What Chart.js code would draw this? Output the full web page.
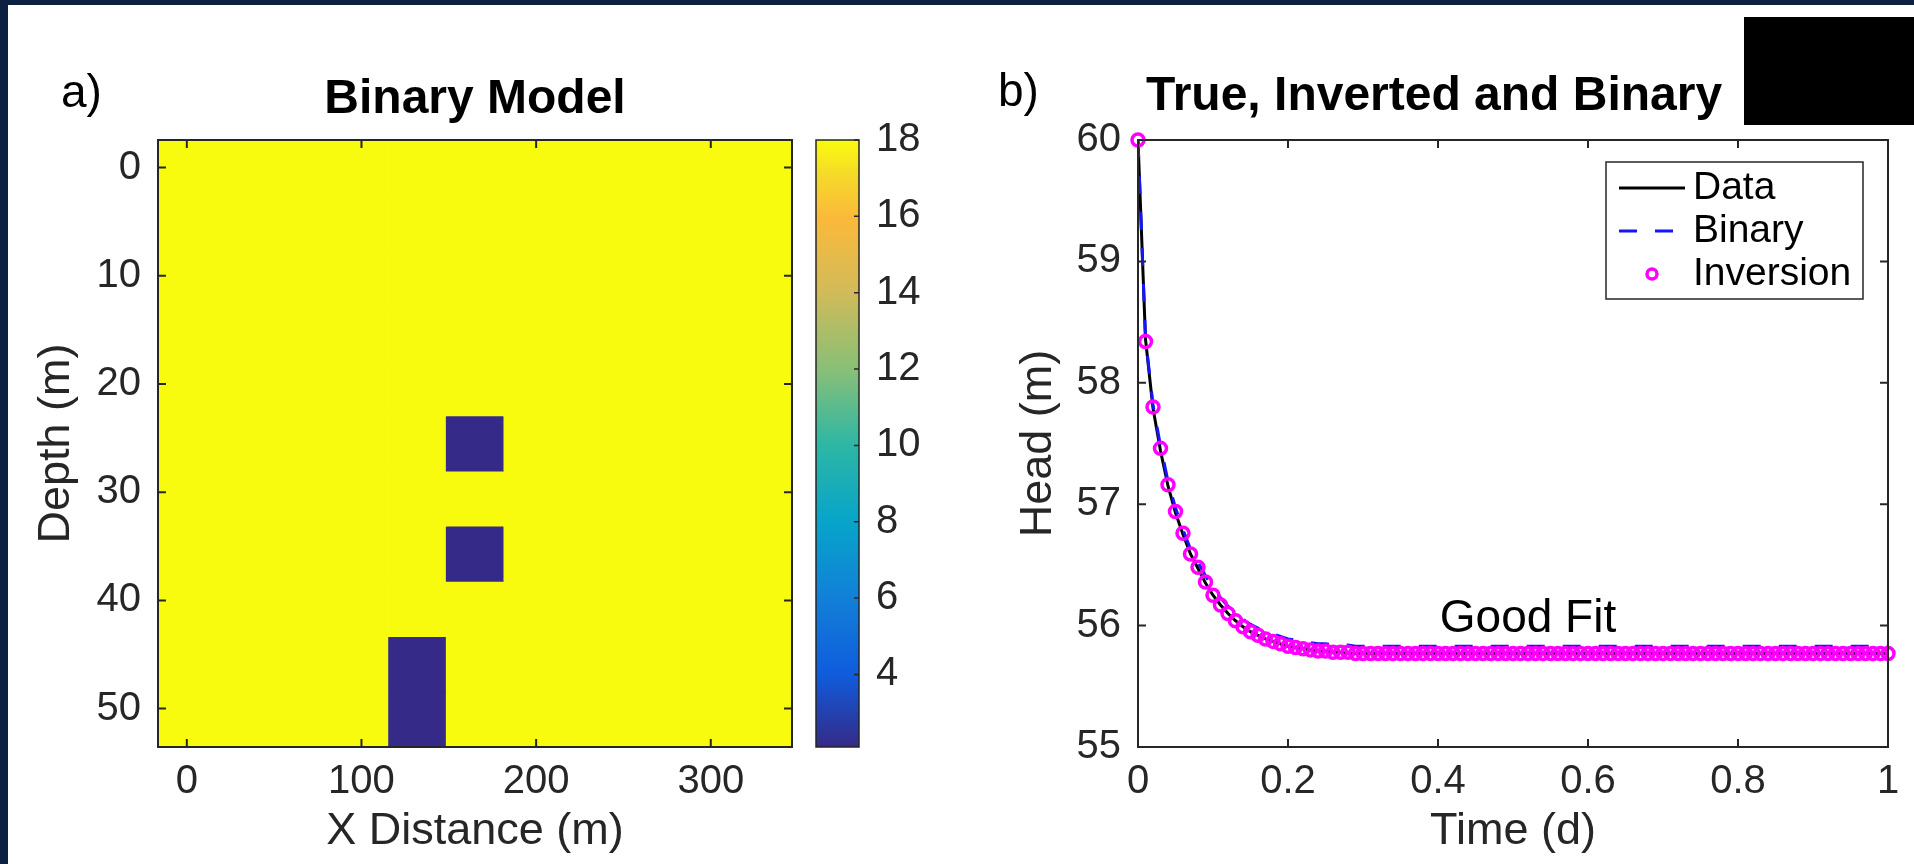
<!DOCTYPE html>
<html>
<head>
<meta charset="utf-8">
<title>Binary model and head fit</title>
<script src="https://cdn.jsdelivr.net/npm/chart.js@4.4.1/dist/chart.umd.min.js"></script>
<style>
  html, body { margin: 0; padding: 0; }
  body { width: 1914px; height: 864px; background: #0c2142; position: relative; overflow: hidden; }
  #sheet { position: absolute; left: 8px; top: 5px; right: 0; bottom: 0; background: #fff; }
  canvas { position: absolute; top: 0; }
  #heat { left: 0; }
  #cbar { left: 800px; }
  #head { left: 960px; }
  #mask { position: absolute; left: 1744px; top: 17px; width: 170px; height: 108px; background: #000; }
</style>
</head>
<body>
<div id="sheet"></div>
<canvas id="heat" width="800" height="864"></canvas>
<canvas id="cbar" width="160" height="864"></canvas>
<canvas id="head" width="954" height="864"></canvas>
<div id="mask"></div>
<script>
// ---- binary model grid (cell centres, values per depth row) ----
const xCenters = [0, 33, 66, 99, 132, 165, 198, 231, 264, 297, 330];
const depthCenters = [0, 5.1, 10.2, 15.3, 20.4, 25.5, 30.6, 35.7, 40.8, 45.9, 51];
const cellWidth = 33;
const cellHeight = 5.1;
const modelRows = [
  [18, 18, 18, 18, 18, 18, 18, 18, 18, 18, 18],
  [18, 18, 18, 18, 18, 18, 18, 18, 18, 18, 18],
  [18, 18, 18, 18, 18, 18, 18, 18, 18, 18, 18],
  [18, 18, 18, 18, 18, 18, 18, 18, 18, 18, 18],
  [18, 18, 18, 18, 18, 18, 18, 18, 18, 18, 18],
  [18, 18, 18, 18, 18, 2.1, 18, 18, 18, 18, 18],
  [18, 18, 18, 18, 18, 18, 18, 18, 18, 18, 18],
  [18, 18, 18, 18, 18, 2.1, 18, 18, 18, 18, 18],
  [18, 18, 18, 18, 18, 18, 18, 18, 18, 18, 18],
  [18, 18, 18, 18, 2.1, 18, 18, 18, 18, 18, 18],
  [18, 18, 18, 18, 2.1, 18, 18, 18, 18, 18, 18]
];
const xTicks = [0, 100, 200, 300];
const depthTicks = [0, 10, 20, 30, 40, 50];
const colorTicks = [4, 6, 8, 10, 12, 14, 16, 18];

// ---- head vs time ----
const times = [
  0, 0.01, 0.02, 0.03, 0.04, 0.05, 0.06, 0.07, 0.08, 0.09,
  0.10, 0.11, 0.12, 0.13, 0.14, 0.15, 0.16, 0.17, 0.18, 0.19,
  0.20, 0.21, 0.22, 0.23, 0.24, 0.25, 0.26, 0.27, 0.28, 0.29,
  0.30, 0.31, 0.32, 0.33, 0.34, 0.35, 0.36, 0.37, 0.38, 0.39,
  0.40, 0.41, 0.42, 0.43, 0.44, 0.45, 0.46, 0.47, 0.48, 0.49,
  0.50, 0.51, 0.52, 0.53, 0.54, 0.55, 0.56, 0.57, 0.58, 0.59,
  0.60, 0.61, 0.62, 0.63, 0.64, 0.65, 0.66, 0.67, 0.68, 0.69,
  0.70, 0.71, 0.72, 0.73, 0.74, 0.75, 0.76, 0.77, 0.78, 0.79,
  0.80, 0.81, 0.82, 0.83, 0.84, 0.85, 0.86, 0.87, 0.88, 0.89,
  0.90, 0.91, 0.92, 0.93, 0.94, 0.95, 0.96, 0.97, 0.98, 0.99,
  1.00
];
const headData = [
  60.00, 58.36, 57.79, 57.44, 57.15, 56.93, 56.75, 56.59, 56.47, 56.35,
  56.25, 56.17, 56.10, 56.04, 55.99, 55.95, 55.92, 55.89, 55.87, 55.85,
  55.83, 55.82, 55.81, 55.80, 55.79, 55.79, 55.78, 55.78, 55.77, 55.77,
  55.77, 55.77, 55.77, 55.77, 55.77, 55.77, 55.77, 55.77, 55.77, 55.77,
  55.77, 55.77, 55.77, 55.77, 55.77, 55.77, 55.77, 55.77, 55.77, 55.77,
  55.77, 55.77, 55.77, 55.77, 55.77, 55.77, 55.77, 55.77, 55.77, 55.77,
  55.77, 55.77, 55.77, 55.77, 55.77, 55.77, 55.77, 55.77, 55.77, 55.77,
  55.77, 55.77, 55.77, 55.77, 55.77, 55.77, 55.77, 55.77, 55.77, 55.77,
  55.77, 55.77, 55.77, 55.77, 55.77, 55.77, 55.77, 55.77, 55.77, 55.77,
  55.77, 55.77, 55.77, 55.77, 55.77, 55.77, 55.77, 55.77, 55.77, 55.77,
  55.77
];
const headBinary = [
  60.00, 58.37, 57.82, 57.48, 57.19, 56.97, 56.79, 56.63, 56.52, 56.41,
  56.31, 56.23, 56.16, 56.10, 56.05, 56.01, 55.98, 55.95, 55.93, 55.91,
  55.89, 55.88, 55.87, 55.86, 55.85, 55.85, 55.84, 55.84, 55.84, 55.83,
  55.83, 55.83, 55.83, 55.83, 55.83, 55.83, 55.83, 55.83, 55.83, 55.83,
  55.83, 55.83, 55.83, 55.83, 55.83, 55.83, 55.83, 55.83, 55.83, 55.83,
  55.83, 55.83, 55.83, 55.83, 55.83, 55.83, 55.83, 55.83, 55.83, 55.83,
  55.83, 55.83, 55.83, 55.83, 55.83, 55.83, 55.83, 55.83, 55.83, 55.83,
  55.83, 55.83, 55.83, 55.83, 55.83, 55.83, 55.83, 55.83, 55.83, 55.83,
  55.83, 55.83, 55.83, 55.83, 55.83, 55.83, 55.83, 55.83, 55.83, 55.83,
  55.83, 55.83, 55.83, 55.83, 55.83, 55.83, 55.83, 55.83, 55.83, 55.83,
  55.83
];
const headInversion = [
  60.00, 58.34, 57.80, 57.46, 57.16, 56.94, 56.76, 56.59, 56.48, 56.36,
  56.25, 56.17, 56.10, 56.04, 55.99, 55.95, 55.92, 55.89, 55.87, 55.85,
  55.83, 55.82, 55.81, 55.80, 55.79, 55.79, 55.78, 55.78, 55.78, 55.77,
  55.77, 55.77, 55.77, 55.77, 55.77, 55.77, 55.77, 55.77, 55.77, 55.77,
  55.77, 55.77, 55.77, 55.77, 55.77, 55.77, 55.77, 55.77, 55.77, 55.77,
  55.77, 55.77, 55.77, 55.77, 55.77, 55.77, 55.77, 55.77, 55.77, 55.77,
  55.77, 55.77, 55.77, 55.77, 55.77, 55.77, 55.77, 55.77, 55.77, 55.77,
  55.77, 55.77, 55.77, 55.77, 55.77, 55.77, 55.77, 55.77, 55.77, 55.77,
  55.77, 55.77, 55.77, 55.77, 55.77, 55.77, 55.77, 55.77, 55.77, 55.77,
  55.77, 55.77, 55.77, 55.77, 55.77, 55.77, 55.77, 55.77, 55.77, 55.77,
  55.77
];
const timeTicks = [0, 0.2, 0.4, 0.6, 0.8, 1];
const headTicks = [55, 56, 57, 58, 59, 60];

// ---- styling ----
const FONT = '"Liberation Sans", Arial, Helvetica, sans-serif';
const AXIS_COLOR = '#262626';
const parula = [
  [0.00, '#352a87'], [0.12, '#0f5cdd'], [0.25, '#1281d7'], [0.37, '#06a4ca'],
  [0.50, '#2eb7a4'], [0.62, '#87bf77'], [0.75, '#d1bb59'], [0.87, '#fbb93a'],
  [0.94, '#f6d82a'], [1.00, '#f9fb0e']
];

const allValues = modelRows.flat();
const cMin = Math.min(...allValues);
const cMax = Math.max(...allValues);

function hexRgb(h) {
  return [1, 3, 5].map(i => parseInt(h.slice(i, i + 2), 16));
}
function colormap(v) {
  const p = Math.max(0, Math.min(1, (v - cMin) / (cMax - cMin)));
  for (let i = 1; i < parula.length; i++) {
    if (p <= parula[i][0]) {
      const [p0, c0] = parula[i - 1];
      const [p1, c1] = parula[i];
      const f = (p - p0) / (p1 - p0);
      const a = hexRgb(c0), b = hexRgb(c1);
      return `rgb(${a.map((x, k) => Math.round(x + (b[k] - x) * f)).join(',')})`;
    }
  }
  return parula[parula.length - 1][1];
}

// fixed ticks taken from the arrays above
const useTicks = list => scale => { scale.ticks = list.map(v => ({value: v})); };
const plainLabel = v => String(v);

// axes box with inward tick marks (matlab style)
const boxTicks = {
  id: 'boxTicks',
  afterDatasetsDraw(chart, args, o) {
    const {ctx, chartArea: a} = chart;
    const len = o.length;
    ctx.save();
    ctx.strokeStyle = o.color;
    ctx.lineWidth = o.width;
    ctx.beginPath();
    Object.values(chart.scales).forEach(s => {
      if (!s.options.display) return;
      s.ticks.forEach((t, i) => {
        const p = s.getPixelForTick(i);
        if (s.isHorizontal()) {
          if (o.bottom) { ctx.moveTo(p, a.bottom); ctx.lineTo(p, a.bottom - len); }
          if (o.top) { ctx.moveTo(p, a.top); ctx.lineTo(p, a.top + len); }
        } else {
          if (o.left) { ctx.moveTo(a.left, p); ctx.lineTo(a.left + len, p); }
          if (o.right) { ctx.moveTo(a.right, p); ctx.lineTo(a.right - len, p); }
        }
      });
    });
    ctx.stroke();
    ctx.strokeRect(a.left, a.top, a.right - a.left, a.bottom - a.top);
    ctx.restore();
  }
};

// panel letters and titles, placed relative to the plot area
const panelText = {
  id: 'panelText',
  afterDraw(chart, args, o) {
    const {ctx, chartArea: a} = chart;
    ctx.save();
    o.items.forEach(it => {
      ctx.font = it.font;
      ctx.fillStyle = it.color || '#000';
      ctx.textAlign = it.align || 'left';
      ctx.textBaseline = 'alphabetic';
      const x = it.align === 'center' ? (a.left + a.right) / 2 + it.dx : a.left + it.dx;
      ctx.fillText(it.text, x, a.top + it.dy);
    });
    ctx.restore();
  }
};

// text placed in data coordinates
const dataNote = {
  id: 'dataNote',
  afterDatasetsDraw(chart, args, o) {
    const {ctx, scales} = chart;
    ctx.save();
    o.items.forEach(it => {
      ctx.font = it.font;
      ctx.fillStyle = '#000';
      ctx.textAlign = 'center';
      ctx.textBaseline = 'alphabetic';
      ctx.fillText(it.text, scales.x.getPixelForValue(it.x), scales.y.getPixelForValue(it.y));
    });
    ctx.restore();
  }
};

// boxed legend inside the upper right of the axes
const boxLegend = {
  id: 'boxLegend',
  afterDraw(chart, args, o) {
    const {ctx, chartArea: a} = chart;
    const x0 = a.right - o.right - o.width;
    const y0 = a.top + o.top;
    ctx.save();
    ctx.fillStyle = '#fff';
    ctx.fillRect(x0, y0, o.width, o.height);
    ctx.strokeStyle = AXIS_COLOR;
    ctx.lineWidth = 1.5;
    ctx.strokeRect(x0, y0, o.width, o.height);
    ctx.font = o.font;
    ctx.textBaseline = 'alphabetic';
    ctx.textAlign = 'left';
    o.order.forEach((di, k) => {
      const ds = chart.data.datasets[di];
      const base = y0 + o.firstBaseline + k * o.rowGap;
      const ly = base - o.sampleRaise;
      const lx = x0 + o.sampleLeft;
      ctx.strokeStyle = ds.borderColor;
      ctx.lineWidth = ds.borderWidth;
      if (ds.showLine === false) {
        ctx.setLineDash([]);
        ctx.beginPath();
        ctx.arc(lx + o.sampleWidth / 2, ly, o.markerRadius, 0, Math.PI * 2);
        ctx.stroke();
      } else {
        ctx.setLineDash(ds.borderDash || []);
        ctx.beginPath();
        ctx.moveTo(lx, ly);
        ctx.lineTo(lx + o.sampleWidth, ly);
        ctx.stroke();
      }
      ctx.setLineDash([]);
      ctx.fillStyle = '#000';
      ctx.fillText(ds.label, lx + o.sampleWidth + o.textGap, base);
    });
    ctx.restore();
  }
};

Chart.defaults.font.family = FONT;
Chart.defaults.color = AXIS_COLOR;

const tickFont = {family: FONT, size: 40};
const axisTitleFont = {family: FONT, size: 45, lineHeight: 1.2};
const noGrid = {display: false, drawTicks: false};

// ---- a) binary model heat map: one floating-bar dataset per depth row ----
new Chart(document.getElementById('heat'), {
  type: 'bar',
  data: {
    datasets: modelRows.map((row, r) => ({
      label: 'row ' + r,
      data: xCenters.map(x => ({x: x, y: [depthCenters[r] - cellHeight / 2, depthCenters[r] + cellHeight / 2]})),
      backgroundColor: row.map(colormap),
      borderWidth: 0,
      grouped: false,
      barPercentage: 1,
      categoryPercentage: 1
    }))
  },
  options: {
    responsive: false,
    animation: false,
    devicePixelRatio: 1,
    layout: {padding: {left: 0, top: 140, right: 8, bottom: 0}},
    scales: {
      x: {
        type: 'linear',
        offset: false,
        min: xCenters[0] - cellWidth / 2,
        max: xCenters[xCenters.length - 1] + cellWidth / 2,
        afterBuildTicks: useTicks(xTicks),
        afterFit: s => { s.height = 117; },
        grid: noGrid,
        border: {display: false},
        ticks: {font: tickFont, padding: 11, maxRotation: 0, autoSkip: false, callback: plainLabel},
        title: {display: true, text: 'X Distance (m)', font: axisTitleFont, color: AXIS_COLOR, padding: {top: 0, bottom: 5}}
      },
      y: {
        type: 'linear',
        reverse: true,
        min: depthCenters[0] - cellHeight / 2,
        max: depthCenters[depthCenters.length - 1] + cellHeight / 2,
        afterBuildTicks: useTicks(depthTicks),
        afterFit: s => { s.width = 158; },
        grid: noGrid,
        border: {display: false},
        ticks: {font: tickFont, padding: 17, callback: plainLabel},
        title: {display: true, text: 'Depth (m)', font: axisTitleFont, color: AXIS_COLOR, padding: {top: 30, bottom: 0}}
      }
    },
    plugins: {
      legend: {display: false},
      tooltip: {enabled: false},
      boxTicks: {length: 8, color: AXIS_COLOR, width: 2, top: true, bottom: true, left: true, right: true},
      panelText: {items: [
        {text: 'a)', font: '46px ' + FONT, dx: -97, dy: -33},
        {text: 'Binary Model', font: 'bold 48px ' + FONT, align: 'center', dx: 0, dy: -27}
      ]}
    }
  },
  plugins: [boxTicks, panelText]
});

// ---- colour bar ----
new Chart(document.getElementById('cbar'), {
  type: 'bar',
  data: {
    labels: ['K'],
    datasets: [{
      data: [[cMin, cMax]],
      borderWidth: 0,
      barPercentage: 1,
      categoryPercentage: 1,
      backgroundColor(ctx) {
        const chart = ctx.chart;
        if (!chart.chartArea) return null;
        const s = chart.scales.y;
        const g = chart.ctx.createLinearGradient(0, s.getPixelForValue(cMin), 0, s.getPixelForValue(cMax));
        parula.forEach(([p, c]) => g.addColorStop(p, c));
        return g;
      }
    }]
  },
  options: {
    responsive: false,
    animation: false,
    devicePixelRatio: 1,
    layout: {padding: {left: 16, top: 140, right: 0, bottom: 117}},
    scales: {
      x: {display: false},
      y: {
        position: 'right',
        min: cMin,
        max: cMax,
        afterBuildTicks: useTicks(colorTicks),
        afterFit: s => { s.width = 101; },
        grid: noGrid,
        border: {display: false},
        ticks: {font: tickFont, padding: 17, callback: plainLabel}
      }
    },
    plugins: {
      legend: {display: false},
      tooltip: {enabled: false},
      boxTicks: {length: 5, color: AXIS_COLOR, width: 1.5, right: true}
    }
  },
  plugins: [boxTicks]
});

// ---- b) head curves ----
const pts = vals => times.map((t, i) => ({x: t, y: vals[i]}));

new Chart(document.getElementById('head'), {
  type: 'line',
  data: {
    datasets: [
      {
        label: 'Inversion',
        data: pts(headInversion),
        showLine: false,
        pointRadius: 6,
        borderWidth: 3.5,
        borderColor: '#ff00ff',
        pointBackgroundColor: 'rgba(0,0,0,0)',
        clip: false
      },
      {
        label: 'Binary',
        data: pts(headBinary),
        borderColor: '#1414ff',
        borderWidth: 3,
        borderDash: [18, 18],
        pointRadius: 0
      },
      {
        label: 'Data',
        data: pts(headData),
        borderColor: '#000000',
        borderWidth: 3,
        pointRadius: 0
      }
    ]
  },
  options: {
    responsive: false,
    animation: false,
    devicePixelRatio: 1,
    layout: {padding: {left: 0, top: 140, right: 26, bottom: 0}},
    elements: {line: {tension: 0}},
    scales: {
      x: {
        type: 'linear',
        min: 0,
        max: 1,
        afterBuildTicks: useTicks(timeTicks),
        afterFit: s => { s.height = 117; },
        grid: noGrid,
        border: {display: false},
        ticks: {font: tickFont, padding: 11, maxRotation: 0, autoSkip: false, callback: plainLabel},
        title: {display: true, text: 'Time (d)', font: axisTitleFont, color: AXIS_COLOR, padding: {top: 0, bottom: 5}}
      },
      y: {
        type: 'linear',
        min: 55,
        max: 60,
        afterBuildTicks: useTicks(headTicks),
        afterFit: s => { s.width = 178; },
        grid: noGrid,
        border: {display: false},
        ticks: {font: tickFont, padding: 17, callback: plainLabel},
        title: {display: true, text: 'Head (m)', font: axisTitleFont, color: AXIS_COLOR, padding: {top: 52, bottom: 0}}
      }
    },
    plugins: {
      legend: {display: false},
      tooltip: {enabled: false},
      boxTicks: {length: 8, color: AXIS_COLOR, width: 2, top: true, bottom: true, left: true, right: true},
      dataNote: {items: [{text: 'Good Fit', x: 0.52, y: 55.95, font: '46px ' + FONT}]},
      boxLegend: {
        order: [2, 1, 0], right: 25, top: 22, width: 257, height: 137,
        firstBaseline: 37, rowGap: 43, sampleRaise: 11, sampleLeft: 13, sampleWidth: 66, textGap: 8,
        markerRadius: 5, font: '39px ' + FONT
      },
      panelText: {items: [
        {text: 'b)', font: '46px ' + FONT, dx: -140, dy: -34},
        {text: 'True, Inverted and Binary', font: 'bold 48px ' + FONT, dx: 8, dy: -30}
      ]}
    }
  },
  plugins: [boxTicks, dataNote, boxLegend, panelText]
});
</script>
</body>
</html>
